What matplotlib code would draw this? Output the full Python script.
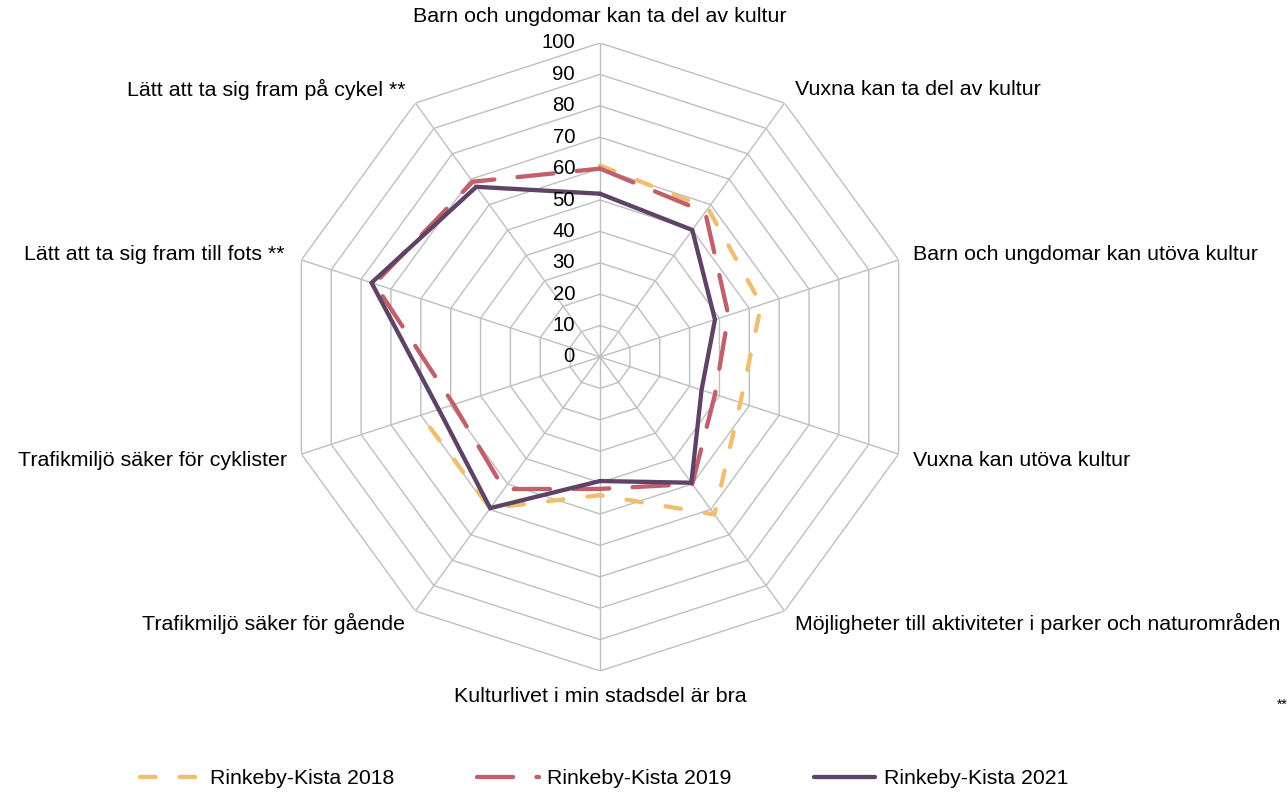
import numpy as np
import matplotlib
matplotlib.use("Agg")
import matplotlib.pyplot as plt

plt.rcParams['font.family'] = ['Liberation Sans', 'DejaVu Sans']

categories = [
    "Barn och ungdomar kan ta del av kultur",
    "Vuxna kan ta del av kultur",
    "Barn och ungdomar kan utöva kultur",
    "Vuxna kan utöva kultur",
    "Möjligheter till aktiviteter i parker och naturområden",
    "Kulturlivet i min stadsdel är bra",
    "Trafikmiljö säker för gående",
    "Trafikmiljö säker för cyklister",
    "Lätt att ta sig fram till fots **",
    "Lätt att ta sig fram på cykel **",
]
series_names = ["Rinkeby-Kista 2018", "Rinkeby-Kista 2019", "Rinkeby-Kista 2021"]
values_2018 = [61, 58.5, 54, 47, 62, 44, 59.5, 60, np.nan, np.nan]
values_2019 = [60, 57, 43, 38.5, 50, 42, 52, 49, 75.5, 69]
values_2021 = [52, 50, 38.5, 34, 49.5, 39.5, 59.5, 54, 76.5, 67]
r_ticks = [0, 10, 20, 30, 40, 50, 60, 70, 80, 90, 100]

colors = ['#F0BE6E', '#C1606A', '#5F4366']
lw = 3.1
styles = [(0, (3.6, 5.6)), (0, (8.4, 5.4)), '-']

W, H = 1287, 794
fig = plt.figure(figsize=(W / 100, H / 100), dpi=100)
cx, cy, R = 600, 357, 314
ax = fig.add_axes([(cx - R) / W, (H - cy - R) / H, 2 * R / W, 2 * R / H], projection='polar')
ax.set_theta_zero_location('N')
ax.set_theta_direction(-1)
ax.set_ylim(0, 100)
ax.grid(False)
ax.spines['polar'].set_visible(False)
ax.set_xticks([])
ax.set_yticks([])
ax.patch.set_alpha(0)

n = len(categories)
theta = np.arange(n) * 2 * np.pi / n
theta_c = np.append(theta, theta[0])

gc = '#BFBFBF'
for t in r_ticks[1:]:
    ax.plot(theta_c, [t] * (n + 1), color=gc, lw=1.0, zorder=1)
for th in theta:
    ax.plot([th, th], [0, r_ticks[-1]], color=gc, lw=1.0, zorder=1)

for t in r_ticks:
    ax.annotate(str(t), xy=(0, t), xytext=(-18, 0), textcoords='offset points',
                ha='right', va='center', fontsize=14.6, color='black', zorder=5)

label_offsets = [(0, 19.4, 'center'), (7.5, 9.4, 'left'), (10.4, 3.6, 'left'),
                 (10.4, -4.3, 'left'), (7.5, -8.6, 'left'), (0, -18.7, 'center'),
                 (-7.5, -8.6, 'right'), (-10.4, -4.3, 'right'), (-11.8, 3.6, 'right'),
                 (-7.5, 9.4, 'right')]
for th, cat, (dx, dy, ha) in zip(theta, categories, label_offsets):
    ax.annotate(cat, xy=(th, 100), xytext=(dx, dy), textcoords='offset points',
                ha=ha, va='center', fontsize=15.4, color='black', annotation_clip=False)

handles = []
for vals, name, c, st in zip([values_2018, values_2019, values_2021], series_names, colors, styles):
    v = np.append(vals, vals[0])
    h, = ax.plot(theta_c, v, color=c, lw=lw, linestyle=st, dash_capstyle='round',
                 solid_capstyle='round', solid_joinstyle='miter', label=name, zorder=3)
    handles.append(h)

fig.legend(handles=handles, loc='center', bbox_to_anchor=(604 / W, 1 - 779 / H), ncol=3,
           frameon=False, fontsize=15.3, handlelength=2.9, handletextpad=0.38, columnspacing=3.9)

fig.text(1277 / W, 1 - 705 / H, "**", fontsize=10, ha='left', va='center')

fig.savefig('out.png', dpi=100)
